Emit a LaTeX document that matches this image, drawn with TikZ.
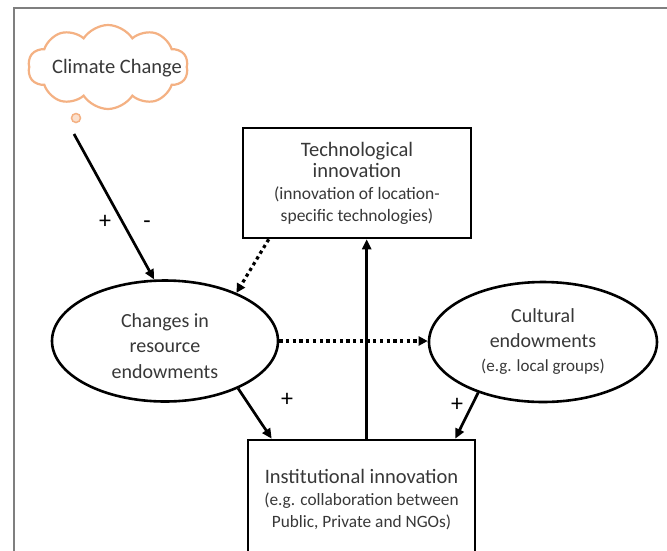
\documentclass[tikz,border=0pt]{standalone}
\usepackage{fontspec}
\setmainfont{Carlito}
\usetikzlibrary{shapes.geometric,shapes.symbols,arrows.meta,calc}
\definecolor{ccorange}{HTML}{F4B183}
\definecolor{txt}{HTML}{383838}
\definecolor{framegray}{HTML}{7F7F7F}
\begin{document}
\begin{tikzpicture}[x=1pt,y=-1pt,
  every node/.style={inner sep=0pt, text=txt},
  arr/.style={line width=2.7pt, -{Triangle[length=10pt,width=9pt]}},
  dotarr/.style={line width=3.2pt, dash pattern=on 3.3pt off 3.4pt, -{Triangle[length=9pt,width=9pt]}},
  ell/.style={ellipse, draw=black, line width=2.6pt},
  boxnode/.style={rectangle, draw=black, line width=2.6pt},
  sign/.style={text=black, font=\fontsize{24}{24}\selectfont},
]
\path[use as bounding box] (0,0) rectangle (667,550);
\clip (0,0) rectangle (667,550);
\fill[white] (0,0) rectangle (667,550);
\draw[framegray, line width=1.3pt] (14,552) -- (14,8) -- (669,8);

% cloud
\node[cloud, cloud puffs=10, cloud puff arc=115, aspect=1.9, draw=ccorange, line width=2.2pt, fill=white, minimum width=160pt, minimum height=84pt] (cloud) at (108,67) {};
\node[font=\fontsize{20.5}{24}\selectfont] (cctext) at (117,68) {Climate Change};
\node[circle, draw=ccorange, fill=ccorange!40, line width=1.5pt, minimum size=9pt] (bubble) at (76,118) {};

% main nodes
\node[ell, minimum width=226pt, minimum height=121pt] (lres) at (165,341) {};
\node[font=\fontsize{20}{25.5}\selectfont, align=center] (lrestext) at (165,346) {Changes in\\resource\\endowments};

\node[ell, minimum width=228pt, minimum height=120pt, align=center, font=\fontsize{20}{24.5}\selectfont] (cult) at (543,342) {Cultural\\endowments\\\fontsize{17}{24.5}\selectfont(e.g. local groups)};

\node[boxnode, minimum width=228pt, minimum height=110pt, align=center, font=\fontsize{20.5}{21.7}\selectfont] (tech) at (357,183) {Technological\\innovation\\\fontsize{17.5}{21.7}\selectfont(innovation of location-\\\fontsize{17.5}{21.7}\selectfont specific technologies)};

\node[boxnode, minimum width=227pt, minimum height=120pt, align=center, font=\fontsize{20.5}{22}\selectfont] (inst) at (361.5,500) {Institutional innovation\\\fontsize{17.3}{22}\selectfont(e.g. collaboration between\\\fontsize{17.3}{22}\selectfont Public, Private and NGOs)};

% connectors
\coordinate (ccstart) at (74,134);
\draw[arr] (ccstart) -- (lres.100);
\node[sign] (plus1) at (105,222) {+};
\node[sign] (minus1) at (147,225) {-};

\draw[dotarr] ([xshift=27pt]tech.south west) -- (lres.34);
\draw[dotarr] (lres.east) -- (lres.east -| cult.west);

\draw[arr] (lres.-33) -- ([xshift=25pt]inst.north west);
\node[sign] (plus2) at (287,400) {+};
\draw[arr] (cult.218) -- ([xshift=-21pt]inst.north east);
\node[sign] (plus3) at (457,405) {+};

\coordinate (vstart) at ([xshift=120pt]inst.north west);
\draw[arr] (vstart) -- (vstart |- tech.south);
\end{tikzpicture}
\end{document}
